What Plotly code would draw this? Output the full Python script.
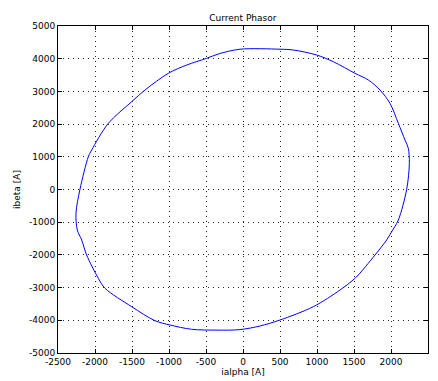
import plotly.graph_objects as go

# Current space phasor trajectory (alpha/beta components), traced clockwise
ialpha = [-41, 500, 680, 995, 1221, 1514, 1694, 1851, 1986, 2099, 2189, 2234,
          2248, 2212, 2099, 2009, 1941, 1784, 1514, 1311, 950, 500, 230, -41,
          -350, -694, -986, -1189, -1504, -1865, -1955, -2113, -2180, -2239,
          -2257, -2203, -2090, -2045, -1820, -1504, -1324, -1009, -761, -491,
          -333, -41]
ibeta = [4290, 4290, 4266, 4113, 3908, 3553, 3349, 3043, 2636, 2024, 1514, 1260,
         801, 6, -933, -1290, -1544, -2003, -2716, -3073, -3584, -3991, -4174,
         -4285, -4300, -4275, -4144, -4012, -3584, -3021, -2716, -2003, -1544,
         -1239, -728, 6, 1003, 1208, 2024, 2685, 3043, 3553, 3807, 4012, 4144,
         4290]

x_ticks = [-2500, -2000, -1500, -1000, -500, 0, 500, 1000, 1500, 2000, 2500]
y_ticks = [-5000, -4000, -3000, -2000, -1000, 0, 1000, 2000, 3000, 4000, 5000]

font = dict(family="DejaVu Sans", size=9, color="black")

fig = go.Figure()
fig.add_trace(go.Scatter(
    x=ialpha, y=ibeta, mode="lines",
    line=dict(color="#0000ff", width=1, shape="spline", smoothing=0.9),
    showlegend=False, hoverinfo="skip",
))

axis_common = dict(
    showline=True, linecolor="black", linewidth=1, mirror="ticks",
    ticks="inside", ticklen=4, tickcolor="black",
    showgrid=True, gridcolor="#222222", griddash="1px,4px", gridwidth=1,
    zeroline=False, tickfont=font, automargin=False,
)

fig.update_xaxes(range=[-2500, 2500], tickvals=x_ticks,
                 ticktext=[str(v) for v in x_ticks],
                 title=dict(text="ialpha [A]", font=font, standoff=2),
                 **axis_common)
fig.update_yaxes(range=[-5000, 5000], tickvals=y_ticks,
                 ticktext=[str(v) for v in y_ticks],
                 title=dict(text="ibeta [A]", font=font, standoff=6),
                 **axis_common)

fig.update_layout(
    width=438, height=381,
    margin=dict(l=58, r=10, t=26, b=28),
    paper_bgcolor="white", plot_bgcolor="white",
    title=dict(text="Current Phasor", font=font, x=0.5545, xanchor="center",
               y=0.953, yanchor="middle"),
)

fig.write_html("out.html")
